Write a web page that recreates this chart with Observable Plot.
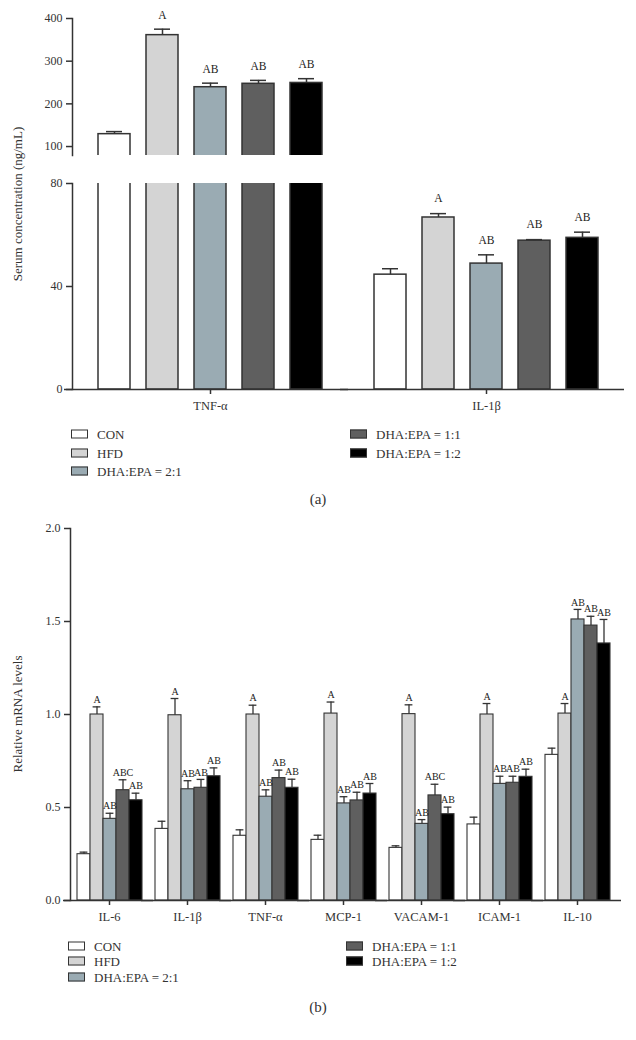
<!DOCTYPE html>
<html>
<head>
<meta charset="utf-8">
<script src="https://cdn.jsdelivr.net/npm/d3@7"></script>
<script src="https://cdn.jsdelivr.net/npm/@observablehq/plot@0.6"></script>
<style>
  body { margin: 0; background: #fff; font-family: "Liberation Serif", "Times New Roman", serif; color: #333; }
  #root { position: relative; width: 636px; height: 1040px; overflow: hidden; background: #fff; }
  .abs { position: absolute; left: 0; }
  .ylab { position: absolute; font-size: 13px; transform: translate(-50%, -50%) rotate(-90deg); white-space: nowrap; color: #333; }
  .leg { position: absolute; font-size: 13px; display: flex; align-items: center; white-space: nowrap; line-height: 1; transform: translateY(-50%); color: #333; }
  .sw { box-sizing: border-box; width: 17px; height: 9px; border: 1.3px solid #333; margin-right: 9px; }
  .cap { position: absolute; font-size: 15px; transform: translate(-50%, -50%); color: #333; }
</style>
</head>
<body>
<div id="root"></div>
<script>
// ---------- shared ----------
const treatments = ["CON", "HFD", "DHA:EPA = 2:1", "DHA:EPA = 1:1", "DHA:EPA = 1:2"];
const colors = ["#ffffff", "#d4d4d4", "#9aabb3", "#5f5f5f", "#000000"];

// ---------- panel (a): serum concentration (ng/mL) ----------
const serumCytokines = ["TNF-α", "IL-1β"];
const serumTNF = [129, 361, 239, 247, 249];
const serumTNFSem = [6, 14, 9.5, 8, 10];
const serumIL1b = [44.6, 66.8, 48.9, 57.8, 58.9];
const serumIL1bSem = [2.3, 1.5, 3.4, 0.4, 2.2];
const serumTNFLetters = ["", "A", "AB", "AB", "AB"];
const serumIL1bLetters = ["", "A", "AB", "AB", "AB"];
const serumUpperTicks = [100, 200, 300, 400];
const serumLowerTicks = [0, 40, 80];

// ---------- panel (b): relative mRNA levels ----------
const genes = ["IL-6", "IL-1β", "TNF-α", "MCP-1", "VACAM-1", "ICAM-1", "IL-10"];
const mrnaCON = [0.249, 0.385, 0.348, 0.326, 0.283, 0.409, 0.783];
const mrnaHFD = [1.0, 0.996, 1.0, 1.005, 1.002, 1.0, 1.005];
const mrna21 = [0.439, 0.598, 0.558, 0.522, 0.412, 0.627, 1.511];
const mrna11 = [0.593, 0.606, 0.658, 0.538, 0.565, 0.633, 1.478];
const mrna12 = [0.539, 0.668, 0.606, 0.575, 0.464, 0.665, 1.382];
const semCON = [0.011, 0.041, 0.032, 0.025, 0.011, 0.039, 0.036];
const semHFD = [0.041, 0.090, 0.050, 0.062, 0.050, 0.059, 0.054];
const sem21 = [0.030, 0.046, 0.037, 0.036, 0.023, 0.041, 0.054];
const sem11 = [0.056, 0.045, 0.043, 0.044, 0.060, 0.035, 0.050];
const sem12 = [0.038, 0.045, 0.046, 0.054, 0.038, 0.041, 0.129];
const lettersCON = ["", "", "", "", "", "", ""];
const lettersHFD = ["A", "A", "A", "A", "A", "A", "A"];
const letters21 = ["AB", "AB", "AB", "AB", "AB", "AB", "AB"];
const letters11 = ["ABC", "AB", "AB", "AB", "ABC", "AB", "AB"];
const letters12 = ["AB", "AB", "AB", "AB", "AB", "AB", "AB"];
const mrnaTicks = [0, 0.5, 1.0, 1.5, 2.0];

// ---------- tables ----------
const serumMeans = [serumTNF, serumIL1b];
const serumSems = [serumTNFSem, serumIL1bSem];
const serumLetters = [serumTNFLetters, serumIL1bLetters];
const serumData = serumCytokines.flatMap((c, i) => treatments.map((t, j) => ({
  group: c, trt: t, mean: serumMeans[i][j], err: serumMeans[i][j] + serumSems[i][j], letter: serumLetters[i][j]
})));

const mrnaMeans = [mrnaCON, mrnaHFD, mrna21, mrna11, mrna12];
const mrnaSems = [semCON, semHFD, sem21, sem11, sem12];
const mrnaLetters = [lettersCON, lettersHFD, letters21, letters11, letters12];
const mrnaData = genes.flatMap((g, i) => treatments.map((t, j) => ({
  group: g, trt: t, mean: mrnaMeans[j][i], err: mrnaMeans[j][i] + mrnaSems[j][i], letter: mrnaLetters[j][i]
})));

const INK = "#333";
const baseStyle = { fontFamily: "Liberation Serif, serif", fontSize: "12px", color: INK, background: "transparent", overflow: "visible" };
const colorScale = { domain: treatments, range: colors };

// ---------- panel (a), upper segment ----------
const serumX = { domain: treatments, paddingInner: 0.334, paddingOuter: 0.517, axis: null };
const upper = Plot.plot({
  width: 636, height: 155, marginLeft: 71, marginRight: 12, marginTop: 18, marginBottom: 0,
  style: baseStyle,
  fx: { domain: serumCytokines, padding: 0, axis: null, label: null },
  x: serumX,
  y: { domain: [79, 400], axis: null },
  color: colorScale,
  marks: [
    Plot.barY(serumData, { fx: "group", x: "trt", y: "mean", fill: "trt", stroke: INK, strokeWidth: 1.5, clip: true }),
    Plot.ruleX(serumData, { fx: "group", x: "trt", y1: "mean", y2: "err", stroke: INK, strokeWidth: 1.5, clip: true }),
    Plot.tickY(serumData, { fx: "group", x: "trt", y: "err", insetLeft: 8, insetRight: 8, stroke: INK, strokeWidth: 1.5, clip: true }),
    Plot.text(serumData, { filter: d => d.letter && d.err > 79, fx: "group", x: "trt", y: "err", text: "letter", dy: -14, fontSize: 11.5, fill: "#222" }),
    Plot.axisY({ ticks: serumUpperTicks, tickSize: 6, tickPadding: 4, stroke: INK, strokeWidth: 1.5, label: null, fontSize: 12 }),
    Plot.frame({ anchor: "left", stroke: INK, strokeWidth: 1.5, facetAnchor: "left" })
  ]
});

// ---------- panel (a), lower segment ----------
const lower = Plot.plot({
  width: 636, height: 264, marginLeft: 71, marginRight: 12, marginTop: 28, marginBottom: 30,
  style: baseStyle,
  fx: { domain: serumCytokines, padding: 0, axis: null, label: null },
  x: serumX,
  y: { domain: [0, 80], axis: null },
  color: colorScale,
  marks: [
    Plot.barY(serumData, { fx: "group", x: "trt", y: "mean", fill: "trt", stroke: INK, strokeWidth: 1.5, clip: true }),
    Plot.ruleX(serumData, { fx: "group", x: "trt", y1: "mean", y2: "err", stroke: INK, strokeWidth: 1.5, clip: true }),
    Plot.tickY(serumData, { fx: "group", x: "trt", y: "err", insetLeft: 8, insetRight: 8, stroke: INK, strokeWidth: 1.5, clip: true }),
    Plot.text(serumData, { filter: d => d.letter && d.err < 80, fx: "group", x: "trt", y: "err", text: "letter", dy: -15, fontSize: 11.5, fill: "#222" }),
    Plot.ruleY([0], { stroke: INK, strokeWidth: 1.5, insetLeft: -8 }),
    Plot.axisY({ ticks: serumLowerTicks, tickSize: 6, tickPadding: 4, stroke: INK, strokeWidth: 1.5, label: null, fontSize: 12 }),
    Plot.axisFx({ anchor: "bottom", tickSize: 5, tickPadding: 7, stroke: INK, strokeWidth: 1.5, label: null, fontSize: 12.5 }),
    Plot.frame({ anchor: "left", stroke: INK, strokeWidth: 1.5, facetAnchor: "left" })
  ]
});

// ---------- panel (b) ----------
const mrnaPlot = Plot.plot({
  width: 636, height: 420, marginLeft: 68, marginRight: 18, marginTop: 18, marginBottom: 30,
  style: baseStyle,
  fx: { domain: genes, padding: 0, axis: null, label: null },
  x: { domain: treatments, paddingInner: 0, paddingOuter: 0.47, axis: null },
  y: { domain: [0, 2], axis: null },
  color: colorScale,
  marks: [
    Plot.barY(mrnaData, { fx: "group", x: "trt", y: "mean", fill: "trt", stroke: INK, strokeWidth: 1.1 }),
    Plot.ruleX(mrnaData, { fx: "group", x: "trt", y1: "mean", y2: "err", stroke: INK, strokeWidth: 1.3 }),
    Plot.tickY(mrnaData, { fx: "group", x: "trt", y: "err", insetLeft: 2.6, insetRight: 2.6, stroke: INK, strokeWidth: 1.3 }),
    Plot.text(mrnaData, { filter: d => d.letter, fx: "group", x: "trt", y: "err", text: "letter", dy: -7, fontSize: 10, fill: "#222" }),
    Plot.ruleY([0], { stroke: INK, strokeWidth: 1.5, insetLeft: -7, insetRight: -5 }),
    Plot.axisY({ ticks: mrnaTicks, tickFormat: d3.format(".1f"), tickSize: 6, tickPadding: 4, stroke: INK, strokeWidth: 1.5, label: null, fontSize: 12 }),
    Plot.axisFx({ anchor: "bottom", tickSize: 5, tickPadding: 7, stroke: INK, strokeWidth: 1.5, label: null, fontSize: 12.5 }),
    Plot.frame({ anchor: "left", stroke: INK, strokeWidth: 1.5, facetAnchor: "left" })
  ]
});

// ---------- layout ----------
const root = document.getElementById("root");
function place(node, top) {
  node.classList.add("abs");
  node.style.top = top + "px";
  root.appendChild(node);
}
place(upper, 0);
place(lower, 155);
place(mrnaPlot, 510);

function addText(cls, text, x, y) {
  const d = document.createElement("div");
  d.className = cls;
  d.textContent = text;
  d.style.left = x + "px";
  d.style.top = y + "px";
  root.appendChild(d);
  return d;
}
addText("ylab", "Serum concentration (ng/mL)", 18, 203.5);
addText("ylab", "Relative mRNA levels", 18, 714);

function legend(items, xs, ys) {
  items.forEach((t, i) => {
    const col = i < 3 ? 0 : 1;
    const row = i < 3 ? i : i - 3;
    const d = document.createElement("div");
    d.className = "leg";
    d.style.left = xs[col] + "px";
    d.style.top = ys[row] + "px";
    const sw = document.createElement("span");
    sw.className = "sw";
    sw.style.background = colors[treatments.indexOf(t)];
    const tx = document.createElement("span");
    tx.textContent = t;
    d.appendChild(sw);
    d.appendChild(tx);
    root.appendChild(d);
  });
}
legend(treatments, [71, 350], [434.3, 452.5, 470.7]);
legend(treatments, [68, 346], [945.7, 961.2, 976.7]);

addText("cap", "(a)", 318, 499);
addText("cap", "(b)", 318, 1006.7);
</script>
</body>
</html>
